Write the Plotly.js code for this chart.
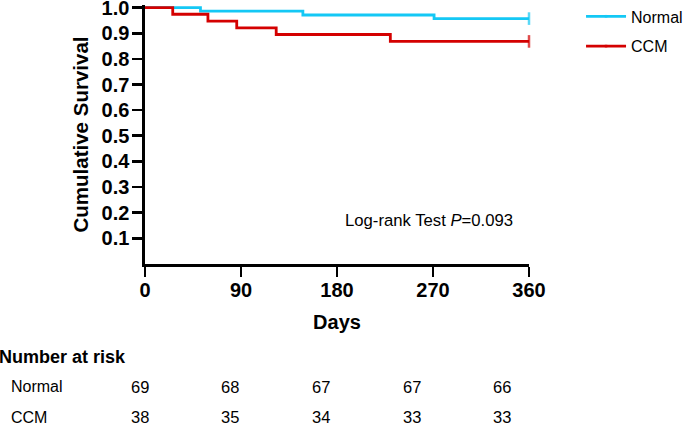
<!DOCTYPE html>
<html>
<head>
<meta charset="utf-8">
<script src="https://cdn.plot.ly/plotly-3.0.1.min.js"></script>
<style>html,body{margin:0;padding:0;background:#fff;}#chart{width:685px;height:426px;}</style>
</head>
<body>
<div id="chart"></div>
<script>
// Kaplan-Meier step data (days, cumulative survival)
const normalDays = [0, 52, 148, 271, 360];
const normalSurv = [1.000, 0.986, 0.971, 0.957, 0.957];
const ccmDays = [0, 26, 59, 86, 123, 230, 360];
const ccmSurv = [1.000, 0.974, 0.947, 0.921, 0.895, 0.868, 0.868];

// Number at risk table
const riskDays = [0, 90, 180, 270, 360];
const normalRisk = [69, 68, 67, 67, 66];
const ccmRisk = [38, 35, 34, 33, 33];

// Axis ticks
const xTicks = [0, 90, 180, 270, 360];
const yTicks = [0.1, 0.2, 0.3, 0.4, 0.5, 0.6, 0.7, 0.8, 0.9, 1.0];
const yTickText = ['0.1','0.2','0.3','0.4','0.5','0.6','0.7','0.8','0.9','1.0'];

const groupNames = ['Normal', 'CCM'];
const pValueText = 'Log-rank Test <i>P</i>=0.093';

const CYAN = '#14C8F5';
const RED = '#D40000';
const FONT = 'Liberation Sans, Arial, sans-serif';

function censorMarkers(arr) {
  return arr.map((v, i) => i === arr.length - 1 ? 9 : 0);
}

const traces = [
  {
    x: normalDays, y: normalSurv, name: groupNames[0], legendgroup: 'g1',
    xaxis: 'x', yaxis: 'y',
    type: 'scatter', mode: 'lines+markers',
    line: {shape: 'hv', color: CYAN, width: 2.8},
    marker: {symbol: 'line-ns', size: censorMarkers(normalDays), line: {color: CYAN, width: 2.5}, color: CYAN},
    cliponaxis: false, hoverinfo: 'skip'
  },
  {
    x: ccmDays, y: ccmSurv, name: groupNames[1], legendgroup: 'g2',
    xaxis: 'x', yaxis: 'y',
    type: 'scatter', mode: 'lines+markers',
    line: {shape: 'hv', color: RED, width: 2.8},
    marker: {symbol: 'line-ns', size: censorMarkers(ccmDays), line: {color: RED, width: 2.5}, color: RED},
    cliponaxis: false, hoverinfo: 'skip'
  }
];

const annotations = [];
annotations.push({
  x: 266, y: 0.17, xref: 'x', yref: 'y', text: pValueText, showarrow: false,
  font: {family: FONT, size: 16.7, color: '#000'}, xanchor: 'center', yanchor: 'middle'
});
annotations.push({
  x: -0.2406, y: -0.358, xref: 'paper', yref: 'paper', text: '<b>Number at risk</b>', showarrow: false,
  font: {family: FONT, size: 18, color: '#000'}, xanchor: 'left', yanchor: 'middle'
});
const rowY = [-0.474, -0.591];
const rowData = [normalRisk, ccmRisk];
groupNames.forEach((g, r) => {
  annotations.push({
    x: -0.211, y: rowY[r], xref: 'paper', yref: 'paper', text: g, showarrow: false,
    font: {family: FONT, size: 16, color: '#000'}, xanchor: 'left', yanchor: 'middle'
  });
  riskDays.forEach((d, i) => {
    annotations.push({
      x: d, y: rowY[r], xref: 'x2', yref: 'paper', text: String(rowData[r][i]), showarrow: false,
      font: {family: FONT, size: 16.5, color: '#000'}, xanchor: 'center', yanchor: 'middle'
    });
  });
});

const layout = {
  width: 685, height: 426,
  margin: {l: 100, r: 156, t: 4.5, b: 162, autoexpand: false},
  paper_bgcolor: '#fff', plot_bgcolor: 'rgba(0,0,0,0)',
  font: {family: FONT, color: '#000'},
  showlegend: true,
  legend: {
    x: 1.1213, y: 1.0215, xanchor: 'left', yanchor: 'top',
    font: {family: FONT, size: 16, color: '#000'},
    bgcolor: 'rgba(0,0,0,0)', itemwidth: 40, tracegroupgap: 6
  },
  xaxis: {
    domain: [0.1049, 1.0], anchor: 'y',
    range: [0, 360], tickvals: xTicks, ticktext: xTicks.map(String),
    showgrid: false, zeroline: false, showline: true, linecolor: '#000', linewidth: 2.6,
    ticks: 'outside', ticklen: 10, tickwidth: 2.6, tickcolor: '#000', ticklabelstandoff: -4,
    tickfont: {family: FONT, size: 20, color: '#000', weight: 'bold'},
    title: {text: '<b>Days</b>', font: {family: FONT, size: 20, color: '#000'}, standoff: 16},
    fixedrange: true, automargin: false
  },
  xaxis2: {
    domain: [0.0932, 0.9371], anchor: 'free', position: 0,
    range: [0, 360], visible: false, fixedrange: true
  },
  yaxis: {
    anchor: 'x',
    range: [0, 1.01], tickvals: yTicks, ticktext: yTickText,
    showgrid: false, zeroline: false, showline: true, linecolor: '#000', linewidth: 2.6,
    ticks: 'outside', ticklen: 10, tickwidth: 2.6, tickcolor: '#000', ticklabelstandoff: -1,
    ticklabeloverflow: 'allow',
    tickfont: {family: FONT, size: 20, color: '#000', weight: 'bold'},
    title: {text: '<b>Cumulative Survival</b>', font: {family: FONT, size: 20.5, color: '#000'}, standoff: 8},
    fixedrange: true, automargin: false
  },
  annotations: annotations
};

Plotly.newPlot('chart', traces, layout, {displayModeBar: false, staticPlot: true});
</script>
</body>
</html>
